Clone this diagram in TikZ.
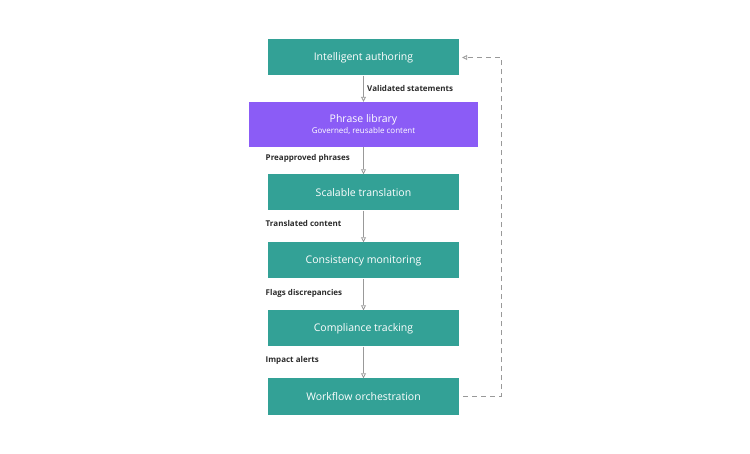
\documentclass[tikz,border=0pt]{standalone}
\usepackage{fontspec}
\setmainfont{Open Sans}
\usetikzlibrary{arrows.meta}
\definecolor{teal1}{HTML}{33A196}
\definecolor{purp}{HTML}{8B5CF6}
\definecolor{lab}{HTML}{2B2B2B}
\begin{document}
\begin{tikzpicture}[x=1pt,y=-1pt,
 box/.style={draw=none,fill=teal1,text=white,minimum width=191pt,minimum height=36pt,font=\fontsize{10.5}{12}\selectfont,inner sep=0pt},
 arr/.style={draw=gray!80,line width=0.8pt,-{Stealth[length=5pt,width=5pt,inset=0pt,open]}},
 lbl/.style={font=\fontsize{8}{10}\selectfont\bfseries,text=lab,anchor=west}]
\useasboundingbox (0,0) rectangle (750,454);
\node[box] (a) at (363.5,57.5) {Intelligent authoring};
\node[box,fill=purp,minimum width=229pt,minimum height=45pt,align=center] (b) at (363.5,124.5) {Phrase library\\[-1pt]{\fontsize{8}{10}\selectfont Governed, reusable content}};
\node[box] (c) at (363.5,192.5) {Scalable translation};
\node[box] (d) at (363.5,260.5) {Consistency monitoring};
\node[box] (e) at (363.5,328.5) {Compliance tracking};
\node[box] (f) at (363.5,396.5) {Workflow orchestration};
\draw[arr] (a) -- (b) node[midway,lbl] at (262,88) {Validated statements};
\draw[arr] (b) -- (c) node[lbl] at (262,158) {Preapproved phrases};
\draw[arr] (c) -- (d) node[lbl] at (262,224) {Translated content};
\draw[arr] (d) -- (e) node[lbl] at (262,293) {Flags discrepancies};
\draw[arr] (e) -- (f) node[lbl] at (262,360) {Impact alerts};
\coordinate (r1) at (501,396.5);
\coordinate (r2) at (501,57.5);
\draw[arr,dashed,dash pattern=on 5pt off 4pt] ([xshift=4pt]f.east) -- (r1) -- (r2) -- ([xshift=3pt]a.east);
\end{tikzpicture}
\end{document}
